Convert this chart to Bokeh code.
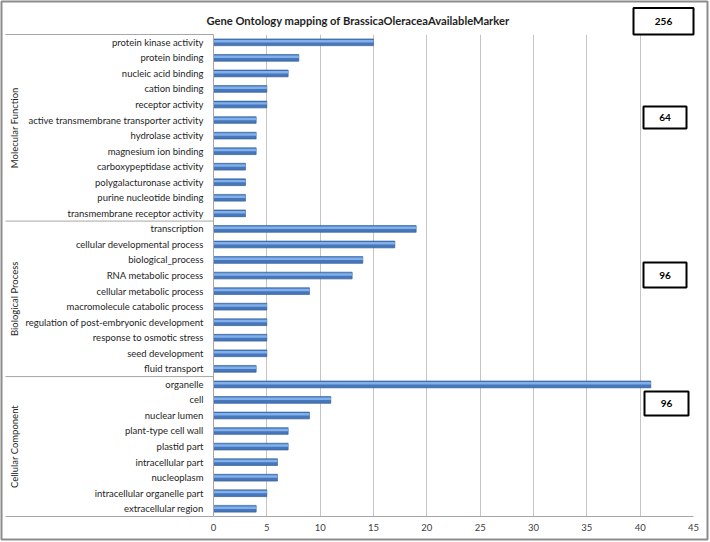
import math
from bokeh.plotting import figure
from bokeh.models import FactorRange, Range1d, FixedTicker, ColumnDataSource
from bokeh.core.properties import value
from bokeh.transform import dodge
from bokeh.embed import file_html
from bokeh.resources import INLINE

title_text = "Gene Ontology mapping of BrassicaOleraceaAvailableMarker"
groups = ["Molecular Function", "Biological Process", "Cellular Component"]

mf_terms = ["protein kinase activity", "protein binding", "nucleic acid binding",
            "cation binding", "receptor activity", "active transmembrane transporter activity",
            "hydrolase activity", "magnesium ion binding", "carboxypeptidase activity",
            "polygalacturonase activity", "purine nucleotide binding",
            "transmembrane receptor activity"]
mf_counts = [15, 8, 7, 5, 5, 4, 4, 4, 3, 3, 3, 3]

bp_terms = ["transcription", "cellular developmental process", "biological_process",
            "RNA metabolic process", "cellular metabolic process",
            "macromolecule catabolic process", "regulation of post-embryonic development",
            "response to osmotic stress", "seed development", "fluid transport"]
bp_counts = [19, 17, 14, 13, 9, 5, 5, 5, 5, 4]

cc_terms = ["organelle", "cell", "nuclear lumen", "plant-type cell wall", "plastid part",
            "intracellular part", "nucleoplasm", "intracellular organelle part",
            "extracellular region"]
cc_counts = [41, 11, 9, 7, 7, 6, 6, 5, 4]

x_ticks = [0, 5, 10, 15, 20, 25, 30, 35, 40, 45]

group_terms = [mf_terms, bp_terms, cc_terms]
group_counts = [mf_counts, bp_counts, cc_counts]
terms = mf_terms + bp_terms + cc_terms
counts = mf_counts + bp_counts + cc_counts
N = len(terms)

W, H = 710, 542
FL, FR, FT, FB = 213, 693, 34, 516
XMAX = x_ticks[-1]
ROW = (FB - FT) / N
UNIT = (FR - FL) / XMAX

def xd(px):
    return (px - FL) / UNIT

def yd(py):
    return N - (py - FT) / ROW

src = ColumnDataSource(dict(term=terms, count=counts))

p = figure(width=W, height=H, output_backend="svg", toolbar_location=None,
           y_range=FactorRange(factors=list(reversed(terms))),
           x_range=Range1d(0, XMAX),
           min_border_left=FL, min_border_right=W - FR,
           min_border_top=FT, min_border_bottom=H - FB)
p.outline_line_color = None
p.background_fill_color = "white"
p.border_fill_color = "white"

# bars: soft shadow, body, highlight
p.hbar(y=dodge("term", -0.21, range=p.y_range), right="count", height=0.1, source=src,
       fill_color="#9a9a9a", fill_alpha=0.35, line_color=None)
p.hbar(y="term", right="count", height=0.43, source=src,
       fill_color="#4677bd", line_color="#2f5c96", line_width=0.6)
p.hbar(y=dodge("term", 0.07, range=p.y_range), right="count", height=0.16, source=src,
       fill_color="#82b0ea", line_color=None)

p.xaxis.ticker = FixedTicker(ticks=x_ticks)
p.xaxis.major_tick_line_color = None
p.xaxis.minor_tick_line_color = None
p.xaxis.axis_line_color = "#a6a6a6"
p.xaxis.major_label_standoff = 1
p.xaxis.major_label_text_font = "Lato"
p.xaxis.major_label_text_font_size = "9.5px"
p.xaxis.major_label_text_color = "#404040"

p.yaxis.major_tick_line_color = None
p.yaxis.minor_tick_line_color = None
p.yaxis.axis_line_color = "#a6a6a6"
p.yaxis.major_label_standoff = 4
p.yaxis.major_label_text_font = "Lato"
p.yaxis.major_label_text_font_size = "9.5px"
p.yaxis.major_label_text_color = "#1e1e1e"

p.xgrid.ticker = FixedTicker(ticks=x_ticks)
p.xgrid.grid_line_color = "#c4c4c4"
p.ygrid.grid_line_color = None

# group labels and separator lines (overlay level -> not clipped to the frame)
bounds = [N]
centers = []
acc = N
for gt in group_terms:
    top = acc
    acc -= len(gt)
    bounds.append(acc)
    centers.append((top + acc) / 2)

p.text(x=[xd(14)] * len(groups), y=centers, text=groups, angle=math.pi / 2,
       text_align="center", text_baseline="middle", text_font=value("Lato"),
       text_font_size="9.5px", text_color="#1e1e1e", level="overlay")
p.segment(x0=[xd(5)] * len(bounds), x1=[0] * len(bounds), y0=bounds, y1=bounds,
          line_color="#a6a6a6", line_width=1, level="overlay")

# title
p.text(x=[xd(357.5)], y=[yd(20)], text=[title_text], text_align="center",
       text_baseline="middle", text_font=value("Lato"), text_font_style="bold",
       text_font_size="11.2px", text_color="#1e1e1e", level="overlay")

# count boxes
box_text = [str(sum(counts))] + [str(sum(c)) for c in group_counts]
box_l = [633, 643, 643, 644]
box_r = [693, 686, 686, 688]
box_t = [7.5, 106, 262, 391]
box_b = [34, 128, 287, 415]
p.quad(left=[xd(v) for v in box_l], right=[xd(v) for v in box_r],
       top=[yd(v) for v in box_t], bottom=[yd(v) for v in box_b],
       fill_color="white", line_color="black", line_width=2, level="overlay")
p.text(x=[xd((a + b) / 2) for a, b in zip(box_l, box_r)],
       y=[yd((a + b) / 2) for a, b in zip(box_t, box_b)], text=box_text,
       text_align="center", text_baseline="middle", text_font=value("Lato"),
       text_font_style="bold", text_font_size="10px", text_color="black", level="overlay")

# chart border
p.quad(left=[xd(1)], right=[xd(707)], top=[yd(1)], bottom=[yd(539)],
       fill_color=None, line_color="#8c8c8c", line_width=2, level="overlay")

open("out.html", "w").write(file_html(p, INLINE))
